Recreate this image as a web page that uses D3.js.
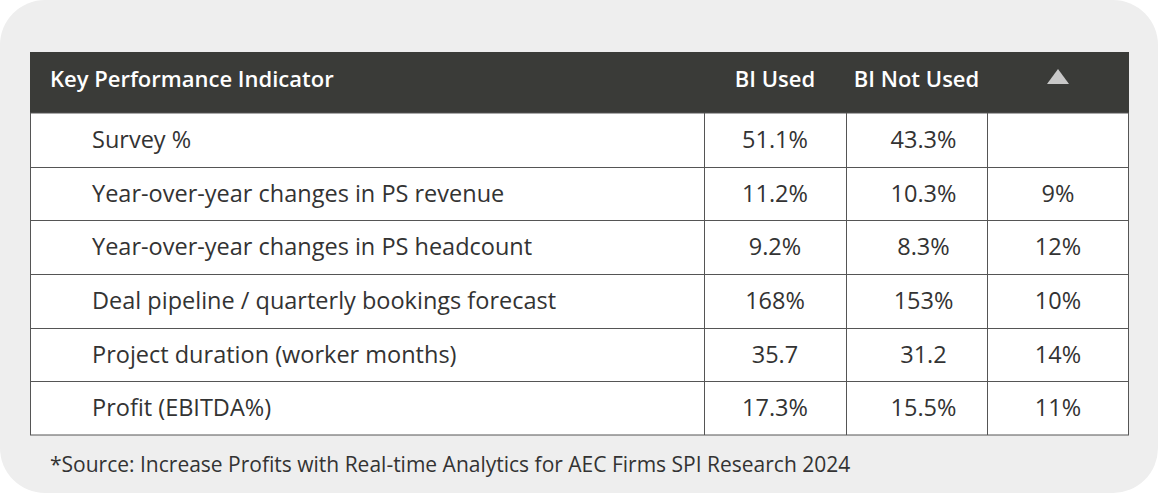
<!DOCTYPE html>
<html><head><meta charset="utf-8">
<script src="https://cdn.jsdelivr.net/npm/d3@7"></script>
<style>body{margin:0;background:#fff}svg{display:block;font-family:'Open Sans',sans-serif}</style>
</head><body><svg id="c" width="1158" height="493"></svg>
<script>
const headers = ["Key Performance Indicator", "BI Used", "BI Not Used", "▲"];
const kpis = ["Survey %", "Year-over-year changes in PS revenue", "Year-over-year changes in PS headcount",
  "Deal pipeline / quarterly bookings forecast", "Project duration (worker months)", "Profit (EBITDA%)"];
const biUsed = ["51.1%", "11.2%", "9.2%", "168%", "35.7", "17.3%"];
const biNotUsed = ["43.3%", "10.3%", "8.3%", "153%", "31.2", "15.5%"];
const change = ["", "9%", "12%", "10%", "14%", "11%"];
const footnote = "*Source: Increase Profits with Real-time Analytics for AEC Firms SPI Research 2024";

const svg = d3.select("#c");
svg.append("rect").attr("x",0).attr("y",0).attr("width",1158).attr("height",493).attr("rx",45).attr("fill","#eeeeee");
const colEdges = [30, 704, 846, 987, 1129];
const headTop = 52, headBot = 113;
const y = d3.scaleBand().domain(d3.range(kpis.length)).range([headBot, 435]);
svg.append("rect").attr("x",30).attr("y",headTop).attr("width",1099).attr("height",headBot-headTop).attr("fill","#3a3b38");
svg.append("rect").attr("x",30.5).attr("y",headBot).attr("width",1098).attr("height",435-headBot).attr("fill","#fff").attr("stroke","#555").attr("stroke-width",1);
svg.selectAll(".hl").data(d3.range(1,kpis.length)).join("line")
  .attr("x1",30).attr("x2",1129).attr("y1",d=>Math.round(y(d))+0.5).attr("y2",d=>Math.round(y(d))+0.5)
  .attr("stroke","#555");
svg.selectAll(".vl").data([1,2,3]).join("line")
  .attr("x1",d=>colEdges[d]+0.5).attr("x2",d=>colEdges[d]+0.5).attr("y1",headBot).attr("y2",435).attr("stroke","#555");
const cx = i => (colEdges[i]+colEdges[i+1])/2;
svg.append("text").attr("x",50).attr("y",87).attr("fill","#fff").attr("font-size",22).attr("font-weight",600).text(headers[0]);
[1,2].forEach(i=>svg.append("text").attr("x",cx(i)).attr("y",87).attr("text-anchor","middle").attr("fill","#fff").attr("font-size",22).attr("font-weight",600).text(headers[i]));
svg.append("path").attr("d",`M${cx(3)-11},84 L${cx(3)+11},84 L${cx(3)},69 Z`).attr("fill","#c8c8c8");
const rowsG = svg.selectAll(".row").data(kpis).join("g").attr("transform",(d,i)=>`translate(0,${y(i)+y.bandwidth()/2+8})`);
const fs = 23.5;
rowsG.append("text").attr("x",92).attr("font-size",fs).attr("fill","#333").text(d=>d);
rowsG.append("text").attr("x",cx(1)).attr("text-anchor","middle").attr("font-size",fs).attr("fill","#333").text((d,i)=>biUsed[i]);
rowsG.append("text").attr("x",cx(2)+7).attr("text-anchor","middle").attr("font-size",fs).attr("fill","#333").text((d,i)=>biNotUsed[i]);
rowsG.append("text").attr("x",cx(3)).attr("text-anchor","middle").attr("font-size",fs).attr("fill","#333").text((d,i)=>change[i]);
svg.append("text").attr("x",50).attr("y",472).attr("font-size",21).attr("fill","#333").text(footnote);
</script></body></html>
